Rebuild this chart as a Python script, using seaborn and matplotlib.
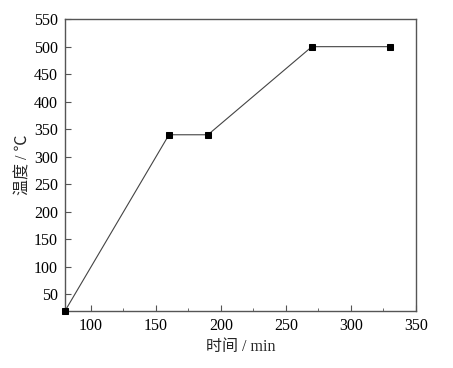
import numpy as np
import pandas as pd
import seaborn as sns
import matplotlib.pyplot as plt
from matplotlib.ticker import MultipleLocator

time_min = [80, 160, 190, 270, 330]
temp_c = [20, 340, 340, 500, 500]

df = pd.DataFrame({'time': time_min, 'temp': temp_c})

sns.set_style('ticks')
plt.rcParams['font.family'] = ['Liberation Serif', 'Noto Sans CJK SC', 'DejaVu Sans']
plt.rcParams['axes.unicode_minus'] = False

fig = plt.figure(figsize=(4.53, 3.68), dpi=100)
ax = fig.add_axes([0.1435, 0.155, 0.7745, 0.793])

sns.lineplot(data=df, x='time', y='temp', ax=ax, color='#444444', lw=0.8,
             marker='s', markersize=4.6, markerfacecolor='black',
             markeredgecolor='black', clip_on=False, zorder=5)

ax.set_xlim(80, 350)
ax.set_ylim(20, 550)
ax.xaxis.set_minor_locator(MultipleLocator(25))
ax.set_xticks(range(100, 351, 50))
ax.set_yticks(range(50, 551, 50))

for s in ax.spines.values():
    s.set_color('#555555')
    s.set_linewidth(1.0)
ax.tick_params(which='both', direction='in', colors='#555555', labelcolor='black',
               labelsize=11.5)
ax.tick_params(which='major', length=4, pad=5)
ax.tick_params(which='minor', length=2.5)

ax.set_xlabel('时间 / min', fontsize=11.5, labelpad=4)
ax.set_ylabel('温度 / ℃', fontsize=11.5, labelpad=2)

fig.savefig('out.png', dpi=100)
